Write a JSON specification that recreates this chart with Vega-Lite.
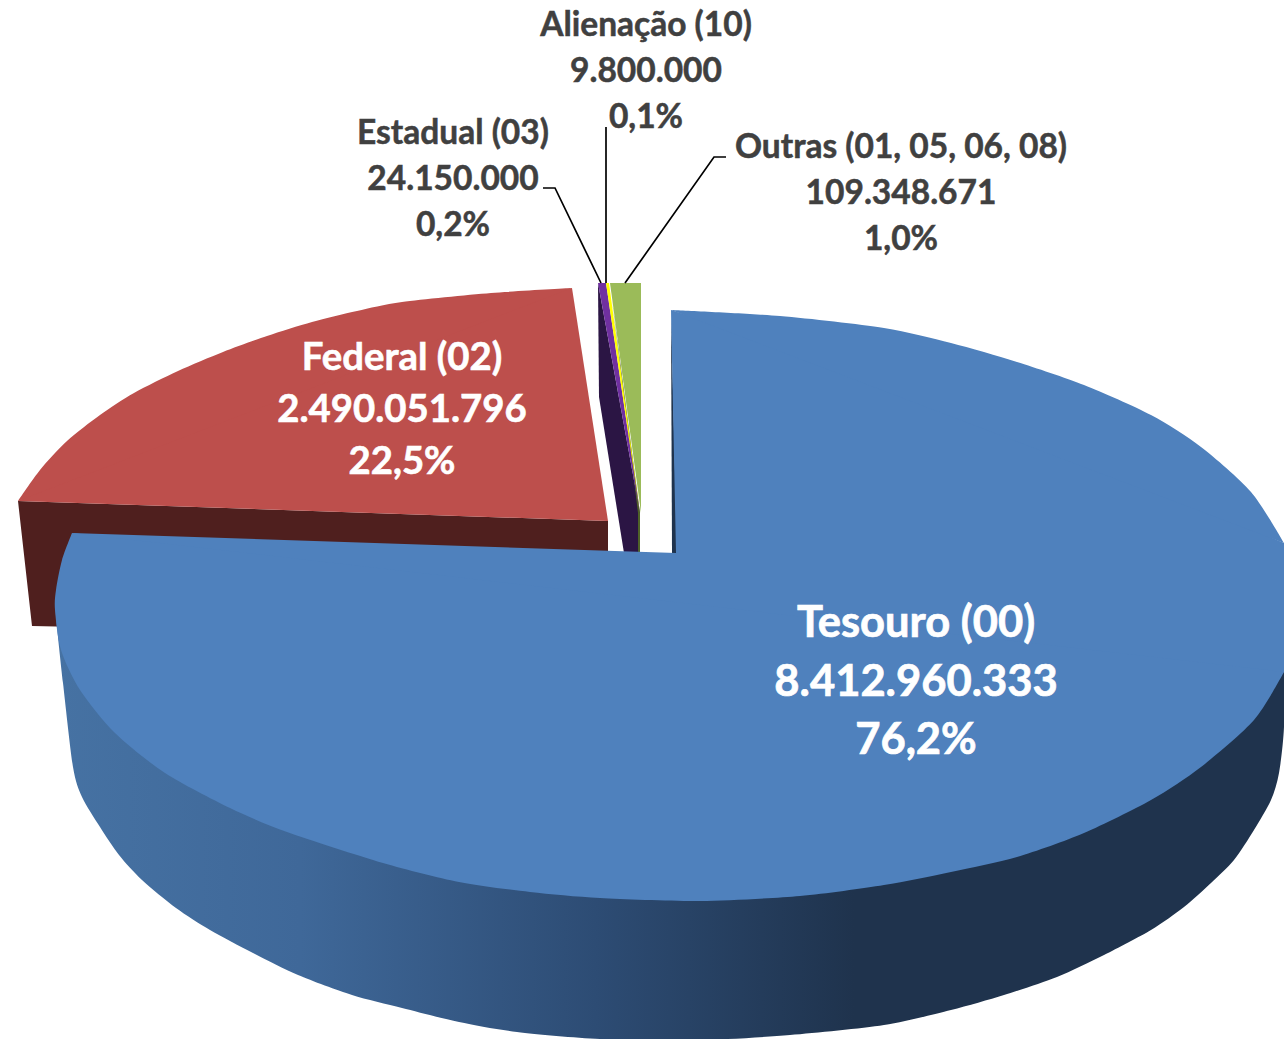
{
"$schema":"https://vega.github.io/schema/vega-lite/v6.json",
"width":1284,"height":1039,"padding":0,
"autosize":{"type":"fit","contains":"padding"},
"background":"white",
"view":{"stroke":null},
"datasets":{
"federalSide":[
{"x":18,"y":501},{"x":608,"y":521},{"x":608,"y":560},{"x":80,"y":560},{"x":80,"y":627},{"x":32,"y":626}
],
"federalArc":[
{"x":572,"y":288},{"x":491,"y":293},{"x":402,"y":302},{"x":357,"y":311},{"x":312,"y":322},{"x":267,"y":336},{"x":223,"y":352},{"x":178,"y":371},{"x":134,"y":393},{"x":100,"y":415},{"x":67,"y":441},{"x":40,"y":470},{"x":18,"y":501}
],
"federalCore":[
{"x":572,"y":288},{"x":300,"y":340},{"x":18,"y":501},{"x":608,"y":521}
],
"shapes":[
{"part":"Estadual side","x":598,"y":283},{"part":"Estadual side","x":599,"y":397},{"part":"Estadual side","x":624,"y":553},{"part":"Estadual side","x":640,"y":553},{"part":"Estadual side","x":640,"y":513},
{"part":"Outras top","x":610,"y":283},{"part":"Outras top","x":641,"y":283},{"part":"Outras top","x":641,"y":513},
{"part":"Outras side","x":612,"y":300},{"part":"Outras side","x":640,"y":513},{"part":"Outras side","x":640,"y":553},{"part":"Outras side","x":638,"y":553},{"part":"Outras side","x":638,"y":513},
{"part":"Estadual top","x":598,"y":283},{"part":"Estadual top","x":606,"y":283},{"part":"Estadual top","x":640,"y":513},
{"part":"Alienação top","x":606,"y":283},{"part":"Alienação top","x":609,"y":283},{"part":"Alienação top","x":640,"y":513},
{"part":"Tesouro edge","x":671,"y":310},{"part":"Tesouro edge","x":672,"y":553},{"part":"Tesouro edge","x":677,"y":553}
],
"tesouroSide":[
{"x":55,"y":600},{"x":57,"y":627},{"x":63,"y":683},{"x":73,"y":767},{"x":82,"y":797},{"x":100,"y":827},{"x":119,"y":855},{"x":142,"y":880},{"x":176,"y":908},{"x":210,"y":930},{"x":253,"y":953},{"x":298,"y":975},{"x":352,"y":995},{"x":402,"y":1008},{"x":459,"y":1022},{"x":517,"y":1032},{"x":600,"y":1039},{"x":700,"y":1040},{"x":790,"y":1035},{"x":884,"y":1025},{"x":951,"y":1010},{"x":1004,"y":995},{"x":1057,"y":977},{"x":1104,"y":955},{"x":1151,"y":930},{"x":1184,"y":907},{"x":1211,"y":883},{"x":1234,"y":860},{"x":1254,"y":830},{"x":1271,"y":800},{"x":1279,"y":773},{"x":1284,"y":727},{"x":1284,"y":660}
],
"tesouroArcs":[
{"piece":"back","x":671,"y":310},{"piece":"back","x":780,"y":316},{"piece":"back","x":884,"y":328},{"piece":"back","x":951,"y":343},{"piece":"back","x":1017,"y":362},{"piece":"back","x":1084,"y":385},{"piece":"back","x":1151,"y":415},{"piece":"back","x":1201,"y":447},{"piece":"back","x":1251,"y":492},{"piece":"back","x":1284,"y":543},
{"piece":"front","x":1284,"y":672},{"piece":"front","x":1254,"y":720},{"piece":"front","x":1201,"y":767},{"piece":"front","x":1151,"y":800},{"piece":"front","x":1084,"y":833},{"piece":"front","x":1017,"y":857},{"piece":"front","x":951,"y":872},{"piece":"front","x":884,"y":885},{"piece":"front","x":800,"y":896},{"piece":"front","x":700,"y":901},{"piece":"front","x":600,"y":898},{"piece":"front","x":530,"y":892},{"piece":"front","x":459,"y":882},{"piece":"front","x":383,"y":863},{"piece":"front","x":287,"y":832},{"piece":"front","x":230,"y":808},{"piece":"front","x":165,"y":773},{"piece":"front","x":115,"y":733},{"piece":"front","x":80,"y":690},{"piece":"front","x":61,"y":650},{"piece":"front","x":55,"y":610},{"piece":"front","x":56,"y":590},{"piece":"front","x":62,"y":560},{"piece":"front","x":72,"y":533}
],
"tesouroCore":[
{"x":671,"y":310},{"x":950,"y":400},{"x":1284,"y":543},{"x":1284,"y":672},{"x":700,"y":850},{"x":72,"y":533},{"x":676,"y":553}
],
"leaders":[
{"slice":"Estadual","x":543,"y":188},{"slice":"Estadual","x":555,"y":188},{"slice":"Estadual","x":601,"y":283},
{"slice":"Alienação","x":606,"y":127},{"slice":"Alienação","x":606,"y":283},
{"slice":"Outras","x":726,"y":157},{"slice":"Outras","x":714,"y":157},{"slice":"Outras","x":625,"y":283}
],
"labels":[
{"slice":"Tesouro (00)","value":8412960333,"share":76.2,"group":"large","text":"Tesouro (00)\n8.412.960.333\n76,2%","x":916,"y":624},
{"slice":"Federal (02)","value":2490051796,"share":22.5,"group":"medium","text":"Federal (02)\n2.490.051.796\n22,5%","x":402,"y":359},
{"slice":"Estadual (03)","value":24150000,"share":0.2,"group":"small","text":"Estadual (03)\n24.150.000\n0,2%","x":453,"y":134},
{"slice":"Alienação (10)","value":9800000,"share":0.1,"group":"small","text":"Alienação (10)\n9.800.000\n0,1%","x":646,"y":26},
{"slice":"Outras (01, 05, 06, 08)","value":109348671,"share":1.0,"group":"small","text":"Outras (01, 05, 06, 08)\n109.348.671\n1,0%","x":901,"y":148}
]
},
"encoding":{
"x":{"field":"x","type":"quantitative","axis":null,"scale":{"domain":[0,1284],"nice":false,"zero":false}},
"y":{"field":"y","type":"quantitative","axis":null,"scale":{"domain":[1039,0],"nice":false,"zero":false}}
},
"layer":[
{"data":{"name":"federalSide"},
"mark":{"type":"line","filled":true,"clip":true,"strokeWidth":0,"fill":"#4f1f1e"},
"encoding":{"order":{"value":null}}},
{"data":{"name":"federalCore"},
"mark":{"type":"line","filled":true,"clip":true,"strokeWidth":0,"fill":"#bd4f4c"},
"encoding":{"order":{"value":null}}},
{"data":{"name":"federalArc"},
"mark":{"type":"line","filled":true,"clip":true,"strokeWidth":0,"fill":"#bd4f4c","interpolate":"cardinal","tension":0.2},
"encoding":{"order":{"value":null}}},
{"data":{"name":"shapes"},
"mark":{"type":"line","filled":true,"clip":true,"strokeWidth":0},
"encoding":{
"order":{"value":null},
"fill":{"field":"part","type":"nominal","legend":null,"sort":null,"scale":{
"domain":["Estadual side","Outras top","Outras side","Estadual top","Alienação top","Tesouro edge"],
"range":["#2b1544","#9bbb59","#4f6228","#7030a0","#ffff00","#1f334d"]}}}},
{"data":{"name":"tesouroSide"},
"mark":{"type":"line","filled":true,"clip":true,"strokeWidth":0,"interpolate":"cardinal","tension":0.2,"fill":{"gradient":"linear","x1":0,"x2":1,"y1":0,"y2":0,"stops":[{"offset":0,"color":"#4672a3"},{"offset":0.2,"color":"#3f6899"},{"offset":0.44,"color":"#2d4c74"},{"offset":0.65,"color":"#1f334d"},{"offset":1,"color":"#1f334d"}]}},
"encoding":{"order":{"value":null}}},
{"data":{"name":"tesouroCore"},
"mark":{"type":"line","filled":true,"clip":true,"strokeWidth":0,"fill":"#4f81bd"},
"encoding":{"order":{"value":null}}},
{"data":{"name":"tesouroArcs"},
"mark":{"type":"line","filled":true,"clip":true,"strokeWidth":0,"fill":"#4f81bd","interpolate":"cardinal","tension":0.2},
"encoding":{"detail":{"field":"piece"},"order":{"value":null}}},
{"data":{"name":"leaders"},
"mark":{"type":"line","stroke":"black","strokeWidth":1.7},
"encoding":{"detail":{"field":"slice"},"order":{"value":null}}},
{"data":{"name":"labels"},"transform":[{"filter":"datum.group==='large'"}],
"mark":{"type":"text","font":"Lato","fontWeight":"bold","fontSize":43.5,"lineHeight":58.5,"lineBreak":"\n","color":"white","stroke":"white","strokeWidth":0.7,"align":"center","baseline":"middle"},
"encoding":{"text":{"field":"text"}}},
{"data":{"name":"labels"},"transform":[{"filter":"datum.group==='medium'"}],
"mark":{"type":"text","font":"Lato","fontWeight":"bold","fontSize":38.3,"lineHeight":52,"lineBreak":"\n","color":"white","stroke":"white","strokeWidth":0.6,"align":"center","baseline":"middle"},
"encoding":{"text":{"field":"text"}}},
{"data":{"name":"labels"},"transform":[{"filter":"datum.group==='small'"}],
"mark":{"type":"text","font":"Lato","fontWeight":"bold","fontSize":33.5,"lineHeight":46,"lineBreak":"\n","color":"#404040","stroke":"#404040","strokeWidth":0.5,"align":"center","baseline":"middle"},
"encoding":{"text":{"field":"text"}}}
]
}
